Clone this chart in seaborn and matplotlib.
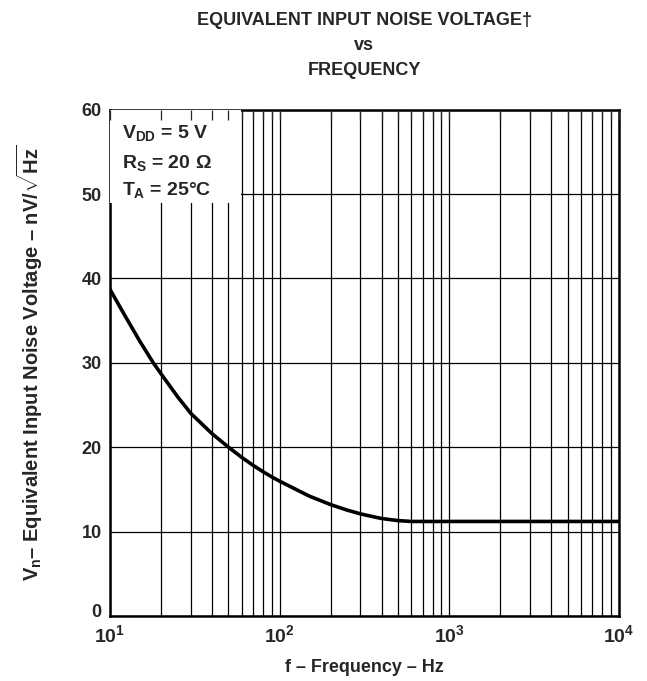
import numpy as np
import pandas as pd
import matplotlib
matplotlib.use("Agg")
import matplotlib.pyplot as plt
import matplotlib.ticker as mticker
import matplotlib.transforms as mtrans
from matplotlib.patches import Rectangle
import seaborn as sns

# values
freq_hz = [10, 12, 15, 18, 20, 25, 30, 40, 50, 60, 70, 80, 90, 100, 150, 200, 250, 300, 350, 400, 500, 600, 700, 1000, 10000]
noise_nv = [38.7, 35.9, 32.55, 30.0, 28.7, 26.0, 24.0, 21.6, 20.0, 18.78, 17.84, 17.09, 16.48, 15.98, 14.2, 13.2, 12.55, 12.1, 11.8, 11.55, 11.3, 11.2, 11.2, 11.2, 11.2]
y_ticks = [0, 10, 20, 30, 40, 50, 60]
x_ticks = [10, 100, 1000, 10000]
x_tick_labels = [r"$10^{1}$", r"$10^{2}$", r"$10^{3}$", r"$10^{4}$"]
cond_lines = [r"$V_{DD}$ = 5 V", r"$R_{S}$ = 20 Ω", r"$T_{A}$ = 25°C"]

sns.set_style("white")
plt.rcParams["font.family"] = ["Liberation Sans", "DejaVu Sans"]
plt.rcParams["font.weight"] = "bold"
plt.rcParams["mathtext.fontset"] = "custom"
plt.rcParams["mathtext.rm"] = "Liberation Sans:bold"
plt.rcParams["mathtext.it"] = "Liberation Sans:bold"
plt.rcParams["mathtext.bf"] = "Liberation Sans:bold"

df = pd.DataFrame({"f": freq_hz, "vn": noise_nv})

fig = plt.figure(figsize=(6.47, 6.81), dpi=100)
ax = fig.add_axes([0.170, 0.0955, 0.786, 0.7435])

sns.lineplot(data=df, x="f", y="vn", ax=ax, color="black", linewidth=2.6, zorder=4)
ax.lines[-1].set_solid_joinstyle("round")
ax.set_xscale("log")
ax.set_xlim(10, 10000)
ax.set_ylim(0, 60)
ax.set_yticks(y_ticks)
ax.set_xticks(x_ticks)
ax.set_xticklabels(x_tick_labels)
ax.xaxis.set_minor_locator(mticker.LogLocator(base=10, subs=np.arange(2, 10)))
ax.xaxis.set_minor_formatter(mticker.NullFormatter())
ax.grid(True, which="both", color="black", linewidth=0.9)
ax.tick_params(axis="both", which="both", length=0)
ax.tick_params(axis="x", labelsize=14, pad=6)
ax.tick_params(axis="y", labelsize=13, pad=6)
for lab in ax.get_yticklabels():
    lab.set_fontweight("bold")
# the "0" label sits a little above the bottom edge
zero_lab = ax.get_yticklabels()[0]
zero_lab.set_transform(zero_lab.get_transform() + mtrans.ScaledTranslation(0, 4 / 72, fig.dpi_scale_trans))
for sp in ax.spines.values():
    sp.set_color("black")
    sp.set_linewidth(1.8)

# white box behind the test conditions
ax.add_patch(Rectangle((0, 0.816), 0.258, 0.184, transform=ax.transAxes,
                       facecolor="white", edgecolor="none", zorder=3))
for yy, txt in zip([0.953, 0.895, 0.842], cond_lines):
    ax.text(0.024, yy, txt, transform=ax.transAxes, fontsize=14,
            fontweight="bold", va="center", ha="left", zorder=5)

# top ticks drawn above the box
ax2 = fig.add_axes(ax.get_position(), sharex=ax, sharey=ax, frameon=False)
ax2.patch.set_visible(False)
ax2.tick_params(axis="x", which="both", top=True, bottom=False, direction="in",
                length=7, width=0.9, labeltop=False, labelbottom=False)
ax2.tick_params(axis="y", which="both", left=False, labelleft=False)

ax.set_xlabel("f – Frequency – Hz", fontsize=13, fontweight="bold", labelpad=9)
ax.set_ylabel(r"$V_{n}$– Equivalent Input Noise Voltage – nV/$\sqrt{Hz}$",
              fontsize=14.5, fontweight="bold", labelpad=26)
ax.set_title("EQUIVALENT INPUT NOISE VOLTAGE†\nvs\nFREQUENCY",
             fontsize=13, fontweight="bold", linespacing=1.63, pad=25)

fig.savefig("out.png", dpi=100)
